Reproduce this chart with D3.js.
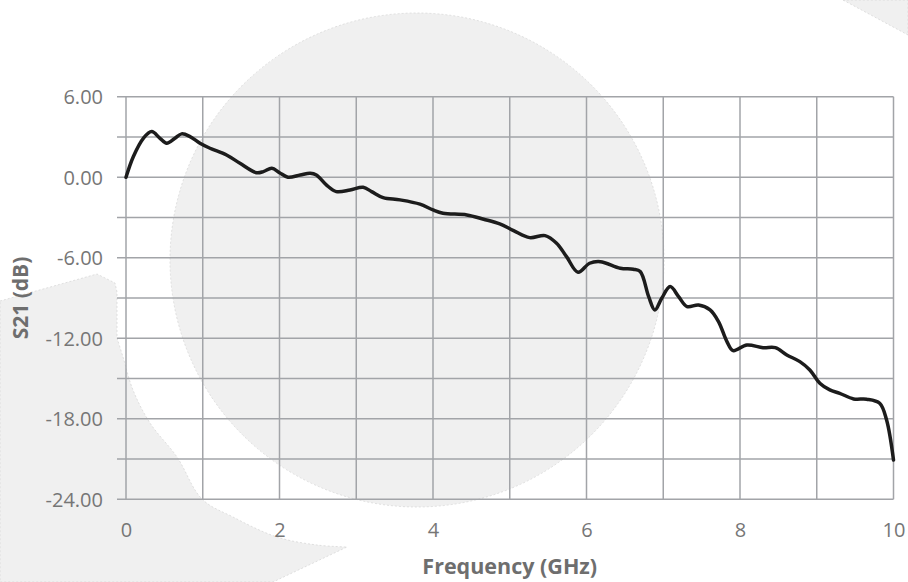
<!DOCTYPE html>
<html>
<head>
<meta charset="utf-8">
<script src="https://cdn.jsdelivr.net/npm/d3@7"></script>
<style>
  html, body { margin: 0; padding: 0; background: #fff; }
  svg { display: block; }
  text { font-family: "Open Sans", "Noto Sans", sans-serif; }
</style>
</head>
<body>
<svg id="chart" width="908" height="582"></svg>
<script>
// ---- data ----
const freqGHz = [0, 0.095, 0.226, 0.335, 0.443, 0.53, 0.638, 0.725, 0.834, 0.964, 1.094, 1.31, 1.485, 1.70, 1.79, 1.90, 2.0, 2.11, 2.27, 2.40, 2.48, 2.61, 2.74, 2.92, 3.09, 3.20, 3.35, 3.57, 3.83, 4.0, 4.13, 4.44, 4.66, 4.87, 5.05, 5.26, 5.46, 5.61, 5.74, 5.89, 6.04, 6.18, 6.44, 6.61, 6.70, 6.81, 6.89, 6.98, 7.09, 7.20, 7.31, 7.46, 7.61, 7.72, 7.83, 7.91, 8.09, 8.30, 8.46, 8.61, 8.78, 8.91, 9.04, 9.17, 9.30, 9.48, 9.65, 9.82, 9.91, 10.0];
const s21dB = [0, 1.53, 2.9, 3.4, 2.9, 2.53, 2.9, 3.23, 3.03, 2.53, 2.16, 1.66, 1.04, 0.34, 0.42, 0.67, 0.34, 0.0, 0.17, 0.3, 0.17, -0.57, -1.07, -0.95, -0.75, -1.07, -1.52, -1.69, -2.01, -2.44, -2.68, -2.81, -3.13, -3.48, -3.98, -4.5, -4.35, -4.92, -5.92, -7.08, -6.41, -6.29, -6.78, -6.86, -7.03, -8.9, -9.89, -9.02, -8.15, -8.9, -9.64, -9.52, -9.89, -10.76, -12.25, -12.92, -12.5, -12.7, -12.7, -13.24, -13.74, -14.36, -15.35, -15.85, -16.1, -16.52, -16.54, -16.84, -18.09, -21.07];
const xTickLabels = [0, 2, 4, 6, 8, 10];
const xGridValues = [0, 1, 2, 3, 4, 5, 6, 7, 8, 9, 10];
const yTickLabels = [-24, -18, -12, -6, 0, 6];
const yGridValues = [-24, -21, -18, -15, -12, -9, -6, -3, 0, 3, 6];
const xTitle = "Frequency (GHz)";
const yTitle = "S21 (dB)";

// ---- layout ----
const svg = d3.select("#chart");
const x = d3.scaleLinear().domain([0, 10]).range([126, 893.5]);
const y = d3.scaleLinear().domain([-24, 6]).range([499.3, 96.7]);

// ---- decorative background shapes ----
const bg = svg.append("g");
const bgFill = "#f0f0f0", bgEdge = "#d4d4d4";
bg.append("circle").attr("cx", 417).attr("cy", 260).attr("r", 247)
  .attr("fill", bgFill).attr("stroke", bgEdge).attr("stroke-width", 0.7).attr("stroke-dasharray", "2,2");
const arcPts = [[117, 338], [123, 357], [133, 390], [150, 423], [177, 457], [202, 499], [233, 517], [277, 537], [317, 545], [347, 547]];
const arcPath = d3.line().curve(d3.curveCatmullRom)(arcPts);
const leftShape = "M0,301 L97,274 L115,283 L117,292 L117,338 " + arcPath.replace(/^M[^CL]*/, "") + " L273,582 L0,582 Z";
bg.append("path").attr("d", leftShape)
  .attr("fill", bgFill).attr("stroke", bgEdge).attr("stroke-width", 0.7).attr("stroke-dasharray", "2,2");
bg.append("path").attr("d", "M843,0 L908,35 L908,0 Z")
  .attr("fill", bgFill).attr("stroke", bgEdge).attr("stroke-width", 0.7).attr("stroke-dasharray", "2,2");

// ---- grid ----
const gridColor = "#a2a4a8";
const grid = svg.append("g");
grid.selectAll("line.h").data(yGridValues).join("line")
  .attr("class", "h")
  .attr("x1", x(0) - 9).attr("x2", x(10))
  .attr("y1", d => y(d)).attr("y2", d => y(d))
  .attr("stroke", gridColor).attr("stroke-width", 1.5);
grid.selectAll("line.v").data(xGridValues).join("line")
  .attr("class", "v")
  .attr("x1", d => x(d)).attr("x2", d => x(d))
  .attr("y1", y(6)).attr("y2", y(-24))
  .attr("stroke", gridColor).attr("stroke-width", 1.5);

// ---- axes (labels only) ----
const labelColor = "#767676";
const fmtY = d => d3.format(".2f")(d).replace("\u2212", "-");
const yAxis = svg.append("g").attr("transform", `translate(${x(0)},0)`)
  .call(d3.axisLeft(y).tickValues(yTickLabels).tickFormat(fmtY).tickSize(0).tickPadding(23));
yAxis.select(".domain").remove();
yAxis.selectAll("text").attr("fill", labelColor).style("font-size", "20px").attr("dy", "0.35em");

const xAxis = svg.append("g").attr("transform", `translate(0,${y(-24)})`)
  .call(d3.axisBottom(x).tickValues(xTickLabels).tickFormat(d3.format("d")).tickSize(0).tickPadding(24));
xAxis.select(".domain").remove();
xAxis.selectAll("text").attr("fill", labelColor).style("font-size", "20px");

// ---- titles ----
svg.append("text").attr("x", (x(0) + x(10)) / 2).attr("y", 574)
  .attr("text-anchor", "middle").attr("fill", "#6e6e6e")
  .style("font-size", "21.5px").style("font-weight", "bold").text(xTitle);
svg.append("text").attr("transform", `translate(28,${(y(6) + y(-24)) / 2}) rotate(-90)`)
  .attr("text-anchor", "middle").attr("fill", "#6e6e6e")
  .style("font-size", "21px").style("font-weight", "bold").text(yTitle);

// ---- series line ----
const pts = freqGHz.map((f, i) => [f, s21dB[i]]);
svg.append("path").datum(pts)
  .attr("fill", "none").attr("stroke", "#1c1c1c").attr("stroke-width", 3.5)
  .attr("stroke-linejoin", "round").attr("stroke-linecap", "round")
  .attr("d", d3.line().x(d => x(d[0])).y(d => y(d[1])).curve(d3.curveCatmullRom.alpha(0.5)));
</script>
</body>
</html>
